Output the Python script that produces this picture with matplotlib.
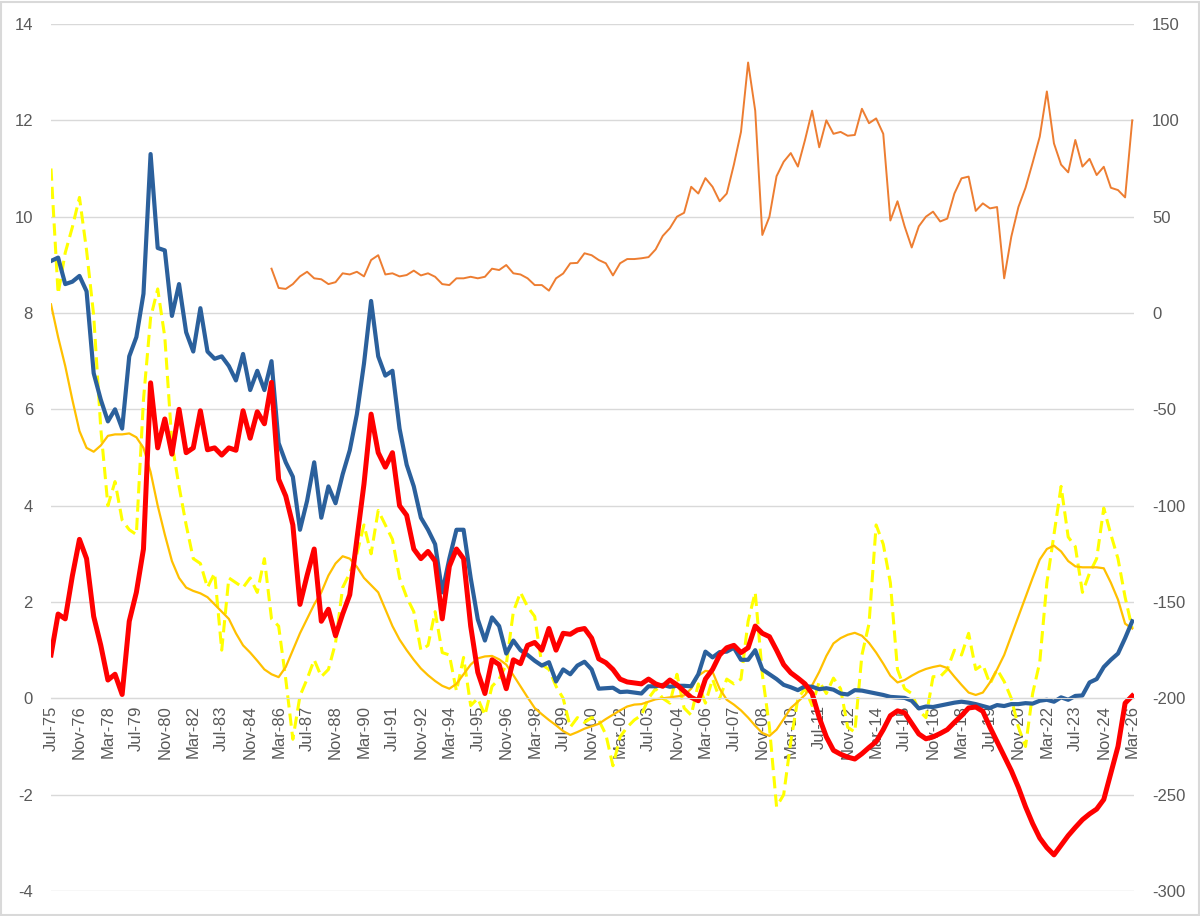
import numpy as np
import matplotlib
matplotlib.use("Agg")
import matplotlib.pyplot as plt
from matplotlib.patches import Rectangle

plt.rcParams["font.family"] = ["Liberation Sans", "DejaVu Sans"]
plt.rcParams["axes.unicode_minus"] = False

# ----- data: one value every 4 months, starting Jul-75 -----
step_months = 4

tick_labels = ["Jul-75", "Nov-76", "Mar-78", "Jul-79", "Nov-80", "Mar-82", "Jul-83",
               "Nov-84", "Mar-86", "Jul-87", "Nov-88", "Mar-90", "Jul-91", "Nov-92",
               "Mar-94", "Jul-95", "Nov-96", "Mar-98", "Jul-99", "Nov-00", "Mar-02",
               "Jul-03", "Nov-04", "Mar-06", "Jul-07", "Nov-08", "Mar-10", "Jul-11",
               "Nov-12", "Mar-14", "Jul-15", "Nov-16", "Mar-18", "Jul-19", "Nov-20",
               "Mar-22", "Jul-23", "Nov-24", "Mar-26"]

blue = [9.08, 9.15, 8.6, 8.65, 8.77, 8.45, 6.75, 6.2,
        5.75, 6.0, 5.6, 7.1, 7.5, 8.4, 11.3, 9.35,
        9.3, 7.94, 8.6, 7.6, 7.2, 8.1, 7.2, 7.05,
        7.1, 6.9, 6.6, 7.15, 6.4, 6.8, 6.4, 7.0,
        5.3, 4.9, 4.6, 3.5, 4.1, 4.9, 3.75, 4.4,
        4.05, 4.65, 5.15, 5.9, 6.95, 8.25, 7.1, 6.7,
        6.8, 5.6, 4.85, 4.4, 3.75, 3.5, 3.2, 2.2,
        2.9, 3.5, 3.5, 2.5, 1.64, 1.2, 1.68, 1.5,
        0.93, 1.2, 1.0, 0.9, 0.78, 0.68, 0.75, 0.35,
        0.6, 0.5, 0.68, 0.76, 0.6, 0.2, 0.21, 0.22,
        0.13, 0.14, 0.12, 0.1, 0.25, 0.25, 0.28, 0.24,
        0.26, 0.26, 0.25, 0.5, 0.97, 0.85, 0.96, 0.97,
        1.05, 0.8, 0.8, 1.0, 0.6, 0.5, 0.4, 0.28,
        0.23, 0.17, 0.25, 0.24, 0.19, 0.21, 0.18, 0.1,
        0.08, 0.17, 0.16, 0.13, 0.1, 0.07, 0.03, 0.02,
        0.01, -0.05, -0.21, -0.17, -0.18, -0.15, -0.12, -0.09,
        -0.07, -0.09, -0.12, -0.16, -0.2, -0.14, -0.16, -0.12,
        -0.12, -0.1, -0.11, -0.05, -0.03, -0.07, 0.02, -0.03,
        0.05, 0.06, 0.33, 0.4, 0.65, 0.8, 0.93, 1.25,
        1.6]

red = [0.9, 1.75, 1.65, 2.54, 3.3, 2.9, 1.7, 1.1,
       0.38, 0.5, 0.08, 1.6, 2.2, 3.1, 6.55, 5.2,
       5.8, 5.07, 6.0, 5.1, 5.2, 5.97, 5.16, 5.2,
       5.05, 5.2, 5.15, 5.97, 5.4, 5.95, 5.7, 6.56,
       4.55, 4.2, 3.6, 1.95, 2.55, 3.1, 1.6, 1.85,
       1.3, 1.75, 2.15, 3.3, 4.45, 5.9, 5.1, 4.8,
       5.1, 4.0, 3.8, 3.1, 2.9, 3.05, 2.85, 1.65,
       2.74, 3.1, 2.9, 1.5, 0.54, 0.1, 0.8, 0.7,
       0.2, 0.8, 0.72, 1.1, 1.16, 1.0, 1.45, 1.0,
       1.35, 1.33, 1.42, 1.45, 1.25, 0.82, 0.74, 0.6,
       0.4, 0.34, 0.32, 0.3, 0.4, 0.3, 0.25, 0.38,
       0.28, 0.15, 0.02, -0.05, 0.4, 0.6, 0.9, 1.05,
       1.1, 0.95, 1.05, 1.5, 1.35, 1.28, 1.0, 0.7,
       0.53, 0.42, 0.3, 0.1, -0.4, -0.8, -1.08, -1.16,
       -1.22, -1.26, -1.15, -1.02, -0.9, -0.65, -0.36, -0.26,
       -0.3, -0.52, -0.74, -0.84, -0.8, -0.73, -0.65, -0.5,
       -0.36, -0.2, -0.18, -0.27, -0.6, -0.9, -1.2, -1.5,
       -1.85, -2.25, -2.6, -2.9, -3.1, -3.25, -3.05, -2.85,
       -2.68, -2.52, -2.4, -2.3, -2.1, -1.55, -1.0, -0.1,
       0.05]

gold = [8.18, 7.5, 6.9, 6.2, 5.55, 5.2, 5.12, 5.25,
        5.45, 5.48, 5.48, 5.5, 5.42, 5.2, 4.7, 4.0,
        3.4, 2.85, 2.5, 2.3, 2.23, 2.18, 2.1, 1.95,
        1.8, 1.65, 1.35, 1.1, 0.95, 0.78, 0.6, 0.5,
        0.44, 0.65, 1.0, 1.35, 1.65, 1.95, 2.2, 2.55,
        2.8, 2.95, 2.9, 2.73, 2.5, 2.35, 2.2, 1.85,
        1.5, 1.22, 1.0, 0.8, 0.62, 0.48, 0.36, 0.26,
        0.2, 0.3, 0.5, 0.7, 0.83, 0.87, 0.88, 0.81,
        0.7, 0.48, 0.25, 0.02, -0.2, -0.33, -0.45, -0.56,
        -0.68, -0.76, -0.7, -0.63, -0.58, -0.53, -0.43, -0.34,
        -0.25, -0.17, -0.13, -0.12, -0.07, -0.02, 0.0, 0.02,
        0.04, 0.06, 0.2, 0.47, 0.57, 0.55, 0.2, -0.03,
        -0.13, -0.25, -0.4, -0.57, -0.72, -0.78, -0.65, -0.43,
        -0.2, -0.07, 0.07, 0.27, 0.55, 0.88, 1.14, 1.25,
        1.32, 1.36, 1.3, 1.15, 0.95, 0.72, 0.47, 0.33,
        0.38, 0.47, 0.55, 0.61, 0.65, 0.68, 0.63, 0.45,
        0.28, 0.12, 0.07, 0.12, 0.33, 0.6, 0.9, 1.3,
        1.7, 2.1, 2.5, 2.88, 3.1, 3.17, 3.05, 2.85,
        2.74, 2.72, 2.72, 2.72, 2.7, 2.4, 2.05, 1.55,
        1.45]

yellow = [11.0, 8.4, 9.25, 9.78, 10.4, 9.3, 7.95, 5.6,
          4.0, 4.5, 3.7, 3.5, 3.4, 6.2, 7.9, 8.5,
          7.5, 5.3, 4.4, 3.6, 2.9, 2.8, 2.3, 2.6,
          1.0, 2.5, 2.4, 2.3, 2.5, 2.2, 2.9, 1.65,
          1.5, 0.4, -0.85, 0.05, 0.4, 0.8, 0.45, 0.6,
          1.15, 2.3, 2.6, 3.0, 3.6, 3.0, 3.9, 3.6,
          3.3, 2.5, 2.1, 1.8, 1.0, 1.1, 1.8, 0.95,
          0.9, 0.15, 0.85, -0.15, 0.0, -0.35, 0.25, 0.4,
          0.7, 1.8, 2.2, 1.9, 1.7, 0.7, 0.6, 0.25,
          0.0, -0.6, -0.4, -0.5, -0.4, -0.45, -0.75, -1.4,
          -0.8, -0.6, -0.45, -0.35, 0.0, 0.2, 0.0, -0.1,
          0.5, -0.2, -0.35, 0.3, -0.1, 0.4, 0.0, 0.4,
          0.3, 0.4, 1.6, 2.2, 0.5, -0.6, -2.25, -2.0,
          -0.9, 0.0, 0.2, -0.15, 0.35, 0.1, 0.42, 0.2,
          -0.6, -0.7, 0.9, 1.55, 3.6, 3.2, 2.4, 0.6,
          0.2, 0.1, -0.25, -0.4, 0.45, 0.45, 0.6, 1.0,
          0.9, 1.35, 0.6, 0.7, 0.3, 0.6, 0.35, 0.0,
          -0.6, -1.0, 0.1, 0.75, 2.4, 3.4, 4.4, 3.35,
          3.15, 2.2, 2.6, 2.9, 3.95, 3.4, 2.9, 2.1,
          1.45]

# right axis series, begins Nov-85 (sample 31)
orange_start = 31
orange = [23,
          13, 12.5, 15, 19, 21.4, 18, 17.5, 15,
          16, 20.6, 20, 21.4, 19, 27.5, 30, 20,
          20.6, 19, 19.7, 22, 19.5, 20.6, 18.8, 15,
          14.5, 18, 18, 18.8, 18, 18.8, 23, 22.3,
          24.9, 20.6, 20, 18, 14.5, 14.5, 11.6, 18,
          20.5, 25.8, 26, 31, 30, 27.5, 25.8, 19.5,
          25.8, 28, 28, 28.4, 29, 33, 40, 44,
          50, 52, 65.5, 62, 70, 65.5, 58, 62,
          77, 94, 130, 105, 40.5, 50, 71, 78.5,
          83, 76, 89.8, 105, 86, 100, 93, 94,
          92, 92.4, 106, 98.5, 101, 93, 48, 58,
          45, 34, 45, 50, 52.6, 47.5, 49, 62,
          69.9, 70.8, 53, 56.9, 54.3, 55, 18, 39.6,
          55, 65, 78, 91.5, 115, 88, 77, 73,
          89.8, 76, 80, 71.6, 75.9, 65, 63.8, 60,
          100]

months = np.arange(len(blue)) * step_months
orange_full = np.array([np.nan] * orange_start + orange)

# ----- figure -----
fig = plt.figure(figsize=(12, 9.16), dpi=100)
fig.patches.append(Rectangle((0.001, 0.001), 0.998, 0.997, transform=fig.transFigure,
                             fill=False, edgecolor="#d9d9d9", linewidth=1.5))

ax = fig.add_axes([51 / 1200, 1 - 891 / 916, 1083 / 1200, 867 / 916])

ax.plot(months, yellow, color="#FFFF00", lw=2.2, linestyle=(0, (4, 2)), zorder=2)
ax.plot(months, gold, color="#FFC000", lw=1.6, zorder=2.1)
ax.plot(months, blue, color="#2B609C", lw=3.0, zorder=2.2)
ax.plot(months, red, color="#FF0000", lw=3.6, zorder=2.3)

ax.set_xlim(0, 609)
ax.set_ylim(-4, 14)
ax.set_yticks(range(-4, 15, 2))
ax.grid(axis="y", color="#d9d9d9", lw=1)
ax.set_axisbelow(True)
for s in ["top", "right", "left"]:
    ax.spines[s].set_visible(False)
ax.spines["bottom"].set_position(("data", 0))
ax.spines["bottom"].set_color("#d9d9d9")

ax.set_xticks(np.arange(0, 609, 16))
ax.set_xticklabels(tick_labels, rotation=90)
ax.tick_params(axis="x", length=0, pad=5, labelsize=12, labelcolor="#595959")
ax.tick_params(axis="y", length=0, pad=13, labelsize=12, labelcolor="#595959")

ax2 = ax.twinx()
ax2.plot(months, orange_full, color="#ED7D31", lw=1.4)
ax2.set_ylim(-300, 150)
ax2.set_yticks(range(-300, 151, 50))
for s in ax2.spines.values():
    s.set_visible(False)
ax2.tick_params(axis="y", length=0, pad=13, labelsize=12, labelcolor="#595959")

fig.savefig("out.png", dpi=100)
